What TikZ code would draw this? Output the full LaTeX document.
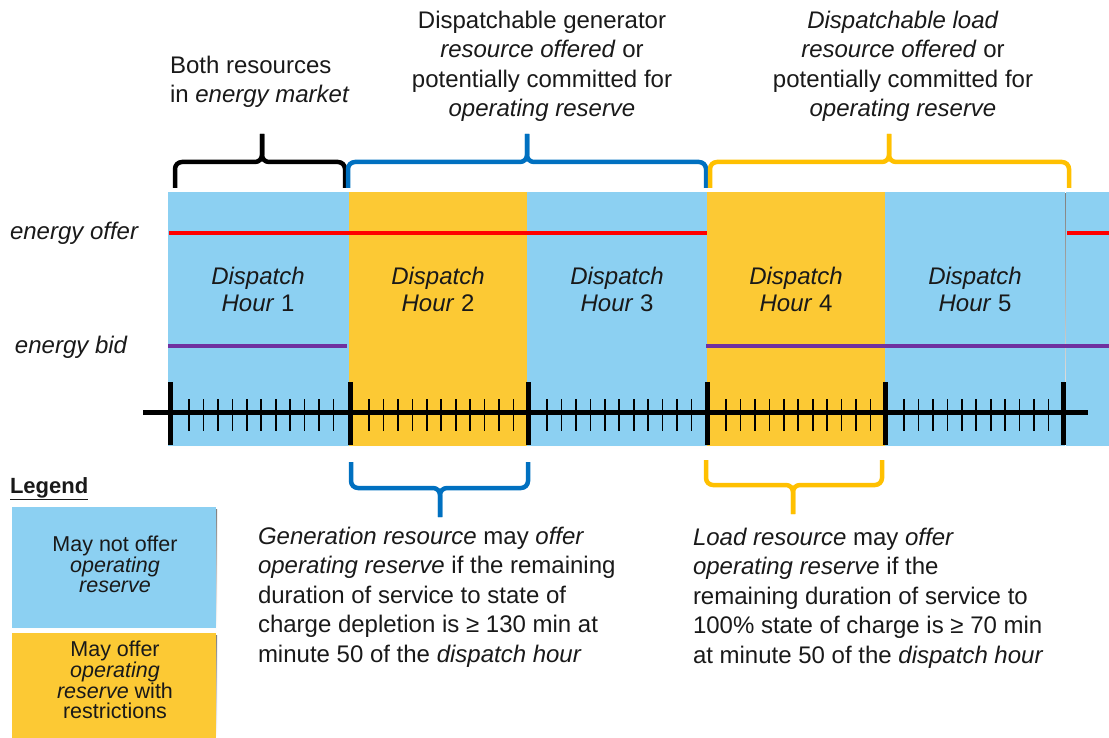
\documentclass[tikz,border=0pt]{standalone}
\usepackage{fontspec}
\setmainfont{Liberation Sans}
\definecolor{lblue}{RGB}{140,208,242}
\definecolor{lyel}{RGB}{252,201,52}
\definecolor{bbrace}{RGB}{0,112,192}
\definecolor{ybrace}{RGB}{255,192,0}
\definecolor{eoff}{RGB}{255,0,0}
\definecolor{ebid}{RGB}{112,48,160}
\definecolor{txt}{RGB}{25,25,25}
\definecolor{shade}{RGB}{210,210,210}
\begin{document}
\begin{tikzpicture}[x=1pt,y=-1pt,
  every node/.style={inner sep=0pt,outer sep=0pt,text=txt},
  maintext/.style={font=\fontsize{24}{29.5}\selectfont},
  hourtext/.style={font=\fontsize{24}{28}\selectfont,align=center,anchor=base},
  legtext/.style={font=\fontsize{21.5}{19.5}\selectfont,align=center,anchor=base},
  bracestyle/.style={line width=4.5pt,rounded corners=7pt},
  majortick/.style={line width=5pt},
  minortick/.style={line width=1.6pt},
  blueblock/.style={fill=lblue,draw=none},
  yelblock/.style={fill=lyel,draw=none}]
\useasboundingbox (0,0) rectangle (1109,738);
% shadow
\fill[shade] (168,194) rectangle (1109,449);
% blocks
\fill[blueblock] (168,192) rectangle (349,446);
\fill[yelblock] (349,192) rectangle (527,446);
\fill[blueblock] (527,192) rectangle (707,446);
\fill[yelblock] (707,192) rectangle (885,446);
\fill[blueblock] (885,192) rectangle (1064.5,446);
\fill[blueblock] (1065.5,192) rectangle (1109,446);
% energy lines
\coordinate (o1) at (169,233); \coordinate (o2) at (707,233);
\coordinate (o3) at (1067,233); \coordinate (o4) at (1109,233);
\coordinate (b1) at (168,346); \coordinate (b2) at (347,346);
\coordinate (b3) at (706,346); \coordinate (b4) at (1109,346);
\draw[eoff,line width=4.5pt] (o1) -- (o2);
\draw[eoff,line width=4.5pt] (o3) -- (o4);
\draw[ebid,line width=4.5pt] (b1) -- (b2);
\draw[ebid,line width=4.5pt] (b3) -- (b4);
\node[font=\fontsize{24}{28}\selectfont\itshape,anchor=base west] (eoffer) at (10,240) {energy offer};
\node[font=\fontsize{24}{28}\selectfont\itshape,anchor=base west] (ebidl) at (15,353) {energy bid};
% hour labels
\node[hourtext] (h1) at (258,312) {\textit{Dispatch}\\\textit{Hour} 1};
\node[hourtext] (h2) at (438,312) {\textit{Dispatch}\\\textit{Hour} 2};
\node[hourtext] (h3) at (617,312) {\textit{Dispatch}\\\textit{Hour} 3};
\node[hourtext] (h4) at (796,312) {\textit{Dispatch}\\\textit{Hour} 4};
\node[hourtext] (h5) at (975,312) {\textit{Dispatch}\\\textit{Hour} 5};
% timeline
\coordinate (tl) at (143,412); \coordinate (tr) at (1088,412);
\draw[line width=5pt] (tl) -- (tr);
\foreach \x in {170,350,528,707,885,1063}{
  \draw[majortick] (\x,382) -- (\x,445);
}
\foreach \x in {170,350,528,707,885}{
  \foreach \i in {0,...,10}{
    \draw[minortick] ({\x+19+\i*14.45},399) -- ({\x+19+\i*14.45},431);
  }
}
% top braces
\draw[bracestyle,black] (175,188) -- (175,162) -- (262,162) -- (262,134);
\draw[bracestyle,black] (345,188) -- (345,162) -- (262,162) -- (262,134);
\draw[bracestyle,bbrace] (348,188) -- (348,162) -- (527,162) -- (527,134);
\draw[bracestyle,bbrace] (706,188) -- (706,162) -- (527,162) -- (527,134);
\draw[bracestyle,ybrace] (710,188) -- (710,162) -- (889,162) -- (889,134);
\draw[bracestyle,ybrace] (1069,188) -- (1069,162) -- (889,162) -- (889,134);
% bottom braces
\draw[bracestyle,bbrace] (351,462) -- (351,488) -- (440,488) -- (440,517);
\draw[bracestyle,bbrace] (528,462) -- (528,488) -- (440,488) -- (440,517);
\draw[bracestyle,ybrace] (706,460) -- (706,485) -- (793,485) -- (793,514);
\draw[bracestyle,ybrace] (882,460) -- (882,485) -- (793,485) -- (793,514);
% top texts
\node[maintext,align=left,anchor=base west] (both) at (170,103) {Both resources\\in \textit{energy market}};
\node[maintext,align=center,anchor=base] (gen) at (542,117) {Dispatchable generator\\\textit{resource offered} or\\potentially committed for\\\textit{operating reserve}};
\node[maintext,align=center,anchor=base] (load) at (903,117) {\textit{Dispatchable load}\\\textit{resource offered} or\\potentially committed for\\\textit{operating reserve}};
% bottom texts
\node[maintext,align=left,anchor=base west] (gtxt) at (258,662) {\textit{Generation resource} may \textit{offer}\\\textit{operating reserve} if the remaining\\duration of service to state of\\charge depletion is ≥ 130 min at\\minute 50 of the \textit{dispatch hour}};
\node[maintext,align=left,anchor=base west] (ltxt) at (693,663) {\textit{Load resource} may \textit{offer}\\\textit{operating reserve} if the\\remaining duration of service to\\100\% state of charge is ≥ 70 min\\at minute 50 of the \textit{dispatch hour}};
% legend
\node[font=\fontsize{22}{26}\selectfont\bfseries,anchor=base west] (legend) at (10,493) {\underline{Legend}};
\fill[shade] (13,509) rectangle (217,630);
\fill[blueblock] (12,507) rectangle (216,628);
\fill[shade] (13,635) rectangle (217,738);
\fill[yelblock] (12,633) rectangle (216,738);
\node[legtext] (leg1) at (115,592) {May not offer\\\textit{operating}\\\textit{reserve}};
\node[legtext] (leg2) at (115,718) {May offer\\\textit{operating}\\\textit{reserve} with\\restrictions};
\end{tikzpicture}
\end{document}
